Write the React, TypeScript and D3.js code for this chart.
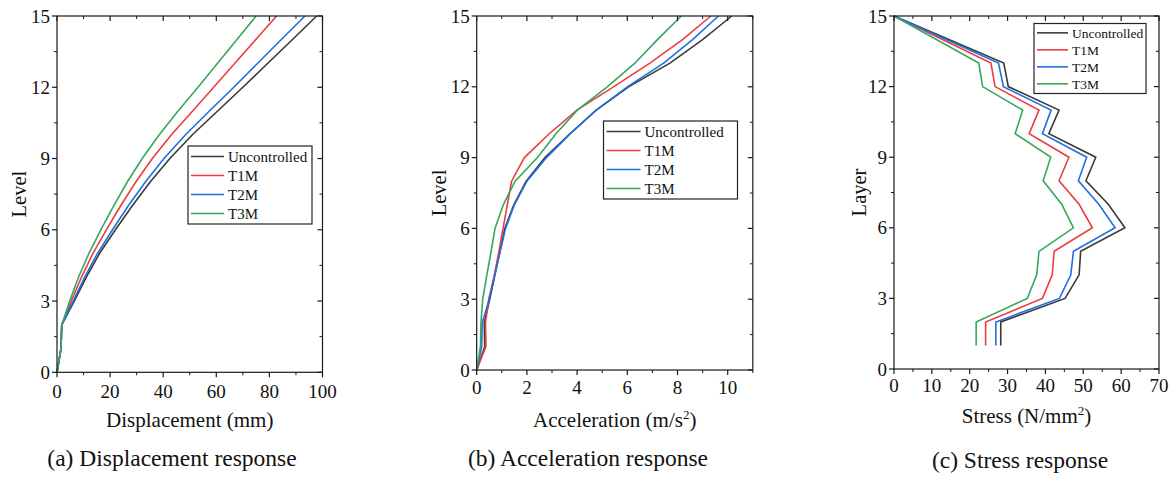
import React from 'react';
import * as d3 from 'd3';

// ---------- DATA ----------
const levels = [0, 1, 2, 3, 4, 5, 6, 7, 8, 9, 10, 11, 12, 13, 14, 15];

// (a) Displacement (mm)
const dispUncontrolled = [0, 1.5, 1.8, 6.5, 11.0, 16.0, 22.0, 28.3, 35.0, 42.5, 51.0, 60.5, 70.0, 79.3, 88.6, 97.8];
const dispT1M = [0, 1.5, 1.8, 5.4, 9.2, 13.5, 18.6, 23.9, 29.6, 35.9, 43.1, 51.1, 59.0, 66.9, 74.8, 82.7];
const dispT2M = [0, 1.5, 1.8, 6.1, 10.4, 15.2, 20.9, 26.8, 33.2, 40.3, 48.4, 57.4, 66.6, 75.5, 84.4, 93.4];
const dispT3M = [0, 1.5, 1.8, 4.8, 8.1, 12.0, 16.5, 21.3, 26.4, 32.1, 38.5, 45.6, 53.1, 60.4, 67.7, 75.0];

// (b) Acceleration (m/s2)
const accUncontrolled = [0, 0.32, 0.3, 0.52, 0.72, 0.92, 1.12, 1.48, 1.97, 2.72, 3.7, 4.75, 6.05, 7.7, 9.0, 10.16];
const accT1M = [0, 0.37, 0.35, 0.48, 0.7, 0.88, 1.05, 1.22, 1.39, 1.9, 2.88, 3.98, 5.45, 6.9, 8.2, 9.33];
const accT2M = [0, 0.2, 0.22, 0.5, 0.71, 0.93, 1.15, 1.5, 2.0, 2.78, 3.72, 4.75, 6.0, 7.45, 8.6, 9.63];
const accT3M = [0, 0.15, 0.17, 0.24, 0.4, 0.57, 0.73, 1.06, 1.53, 2.42, 3.15, 4.0, 5.2, 6.3, 7.2, 8.15];

// (c) Stress (N/mm2)
const layers = [1, 2, 3, 4, 5, 6, 7, 8, 9, 10, 11, 12, 13, 14, 15];
const stressUncontrolled = [28.2, 28.2, 45.2, 48.9, 49.3, 61.0, 56.6, 50.7, 53.3, 40.9, 43.6, 30.2, 29.0, 14.5, 0];
const stressT1M = [24.2, 24.2, 39.2, 41.8, 42.3, 52.4, 48.9, 43.6, 46.2, 35.7, 38.3, 26.7, 25.6, 12.8, 0];
const stressT2M = [26.9, 26.9, 43.7, 46.7, 47.4, 58.4, 54.1, 48.7, 50.9, 39.2, 41.5, 28.9, 27.6, 13.8, 0];
const stressT3M = [21.7, 21.7, 35.2, 37.7, 38.3, 47.4, 44.3, 39.4, 41.4, 32.0, 34.0, 23.4, 22.4, 11.2, 0];

const seriesNames = ['Uncontrolled', 'T1M', 'T2M', 'T3M'];
const seriesColors = ['#3a3a3a', '#ee3b3e', '#1f6fe2', '#35a85b'];

const yTickValues = [0, 3, 6, 9, 12, 15];
const dispTicks = [0, 20, 40, 60, 80, 100];
const accTicks = [0, 2, 4, 6, 8, 10];
const stressTicks = [0, 10, 20, 30, 40, 50, 60, 70];

const FONT = '"Liberation Serif", "Times New Roman", serif';

type PanelProps = {
  left: number; right: number; top: number; bottom: number;
  xMax: number; xTicks: number[]; xMinorStep: number;
  xValues: number[][]; yValues: number[];
  yTitle: string; yTitleX: number;
  xTitle: React.ReactNode; xTitleY: number;
  caption: string; captionX: number; captionY: number;
  tickLabelY: number;
  legend: { x: number; y: number; w: number; h: number; row: number; fs: number; lineLen: number };
};

function Panel(p: PanelProps) {
  const xs = d3.scaleLinear().domain([0, p.xMax]).range([p.left, p.right]);
  const ys = d3.scaleLinear().domain([0, 15]).range([p.bottom, p.top]);
  const minorX = d3.range(0, p.xMax + 1e-9, p.xMinorStep).filter((v) => !p.xTicks.includes(v));
  const minorY = d3.range(1.5, 15, 3);
  const line = d3.line<[number, number]>().x((d) => xs(d[0])).y((d) => ys(d[1]));
  const drawOrder = [0, 1, 2, 3];
  const axisColor = '#1a1a1a';
  return (
    <g>
      {drawOrder.map((si) => (
        <path
          key={si}
          d={line(p.yValues.map((lv, i) => [p.xValues[si][i], lv] as [number, number])) || ''}
          fill="none"
          stroke={seriesColors[si]}
          strokeWidth={1.6}
          strokeLinejoin="miter"
        />
      ))}
      <rect x={p.left} y={p.top} width={p.right - p.left} height={p.bottom - p.top} fill="none" stroke={axisColor} strokeWidth={1.2} />
      {p.xTicks.map((t) => (
        <g key={'xt' + t}>
          <line x1={xs(t)} x2={xs(t)} y1={p.bottom} y2={p.bottom + 5} stroke={axisColor} strokeWidth={1.2} />
          <line x1={xs(t)} x2={xs(t)} y1={p.top} y2={p.top + 5} stroke={axisColor} strokeWidth={1.2} />
          <text x={xs(t)} y={p.tickLabelY} textAnchor="middle" fontSize={19} fontFamily={FONT} fill="#111">{t}</text>
        </g>
      ))}
      {minorX.map((t) => (
        <g key={'xm' + t}>
          <line x1={xs(t)} x2={xs(t)} y1={p.bottom} y2={p.bottom + 3} stroke={axisColor} strokeWidth={1} />
          <line x1={xs(t)} x2={xs(t)} y1={p.top} y2={p.top + 3} stroke={axisColor} strokeWidth={1} />
        </g>
      ))}
      {yTickValues.map((t) => (
        <g key={'yt' + t}>
          <line x1={p.left - 5} x2={p.left} y1={ys(t)} y2={ys(t)} stroke={axisColor} strokeWidth={1.2} />
          <line x1={p.right - 5} x2={p.right} y1={ys(t)} y2={ys(t)} stroke={axisColor} strokeWidth={1.2} />
          <text x={p.left - 7} y={ys(t)} dy="0.35em" textAnchor="end" fontSize={19} fontFamily={FONT} fill="#111">{t}</text>
        </g>
      ))}
      {minorY.map((t) => (
        <g key={'ym' + t}>
          <line x1={p.left - 3} x2={p.left} y1={ys(t)} y2={ys(t)} stroke={axisColor} strokeWidth={1} />
          <line x1={p.right - 3} x2={p.right} y1={ys(t)} y2={ys(t)} stroke={axisColor} strokeWidth={1} />
        </g>
      ))}
      <text
        transform={`translate(${p.yTitleX},${(p.top + p.bottom) / 2}) rotate(-90)`}
        textAnchor="middle"
        dy="0.35em"
        fontSize={20.5}
        fontFamily={FONT}
        fill="#111"
      >
        {p.yTitle}
      </text>
      <text x={(p.left + p.right) / 2} y={p.xTitleY} textAnchor="middle" fontSize={21} fontFamily={FONT} fill="#111">
        {p.xTitle}
      </text>
      <text x={p.captionX} y={p.captionY} textAnchor="middle" fontSize={23.5} fontFamily={FONT} fill="#111">
        {p.caption}
      </text>
      <g>
        <rect x={p.legend.x} y={p.legend.y} width={p.legend.w} height={p.legend.h} fill="#fff" stroke="#222" strokeWidth={1.2} />
        {seriesNames.map((n, i) => {
          const cy = p.legend.y + p.legend.row * (i + 0.55);
          return (
            <g key={n}>
              <line x1={p.legend.x + 3} x2={p.legend.x + 3 + p.legend.lineLen} y1={cy} y2={cy} stroke={seriesColors[i]} strokeWidth={1.6} />
              <text x={p.legend.x + p.legend.lineLen + 7} y={cy} dy="0.35em" fontSize={p.legend.fs} fontFamily={FONT} fill="#111">{n}</text>
            </g>
          );
        })}
      </g>
    </g>
  );
}

export default function App() {
  return (
    <svg width={1175} height={479} style={{ position: 'absolute', left: 0, top: 0, background: '#fff' }}>
      <rect width={1175} height={479} fill="#fff" />
      <Panel
        left={57} right={322.5} top={16} bottom={372.3}
        xMax={100} xTicks={dispTicks} xMinorStep={10}
        xValues={[dispUncontrolled, dispT1M, dispT2M, dispT3M]} yValues={levels}
        yTitle="Level" yTitleX={19}
        xTitle="Displacement (mm)" xTitleY={427}
        caption="(a) Displacement response" captionX={172} captionY={466}
        tickLabelY={398}
        legend={{ x: 188, y: 146, w: 124, h: 78, row: 19, fs: 15, lineLen: 33 }}
      />
      <Panel
        left={476.7} right={752.8} top={16} bottom={370}
        xMax={11} xTicks={accTicks} xMinorStep={1}
        xValues={[accUncontrolled, accT1M, accT2M, accT3M]} yValues={levels}
        yTitle="Level" yTitleX={439}
        xTitle={<>Acceleration (m/s<tspan dy={-8} fontSize={13}>2</tspan><tspan dy={8}>)</tspan></>} xTitleY={427}
        caption="(b) Acceleration response" captionX={588} captionY={466}
        tickLabelY={394}
        legend={{ x: 603.5, y: 121, w: 134, h: 78, row: 19, fs: 15, lineLen: 34 }}
      />
      <Panel
        left={894} right={1159} top={16} bottom={369}
        xMax={70} xTicks={stressTicks} xMinorStep={5}
        xValues={[stressUncontrolled, stressT1M, stressT2M, stressT3M]} yValues={layers}
        yTitle="Layer" yTitleX={859}
        xTitle={<>Stress (N/mm<tspan dy={-8} fontSize={13}>2</tspan><tspan dy={8}>)</tspan></>} xTitleY={423}
        caption="(c) Stress response" captionX={1020} captionY={468}
        tickLabelY={392}
        legend={{ x: 1034, y: 23.5, w: 112, h: 70, row: 17, fs: 13.5, lineLen: 31 }}
      />
    </svg>
  );
}
